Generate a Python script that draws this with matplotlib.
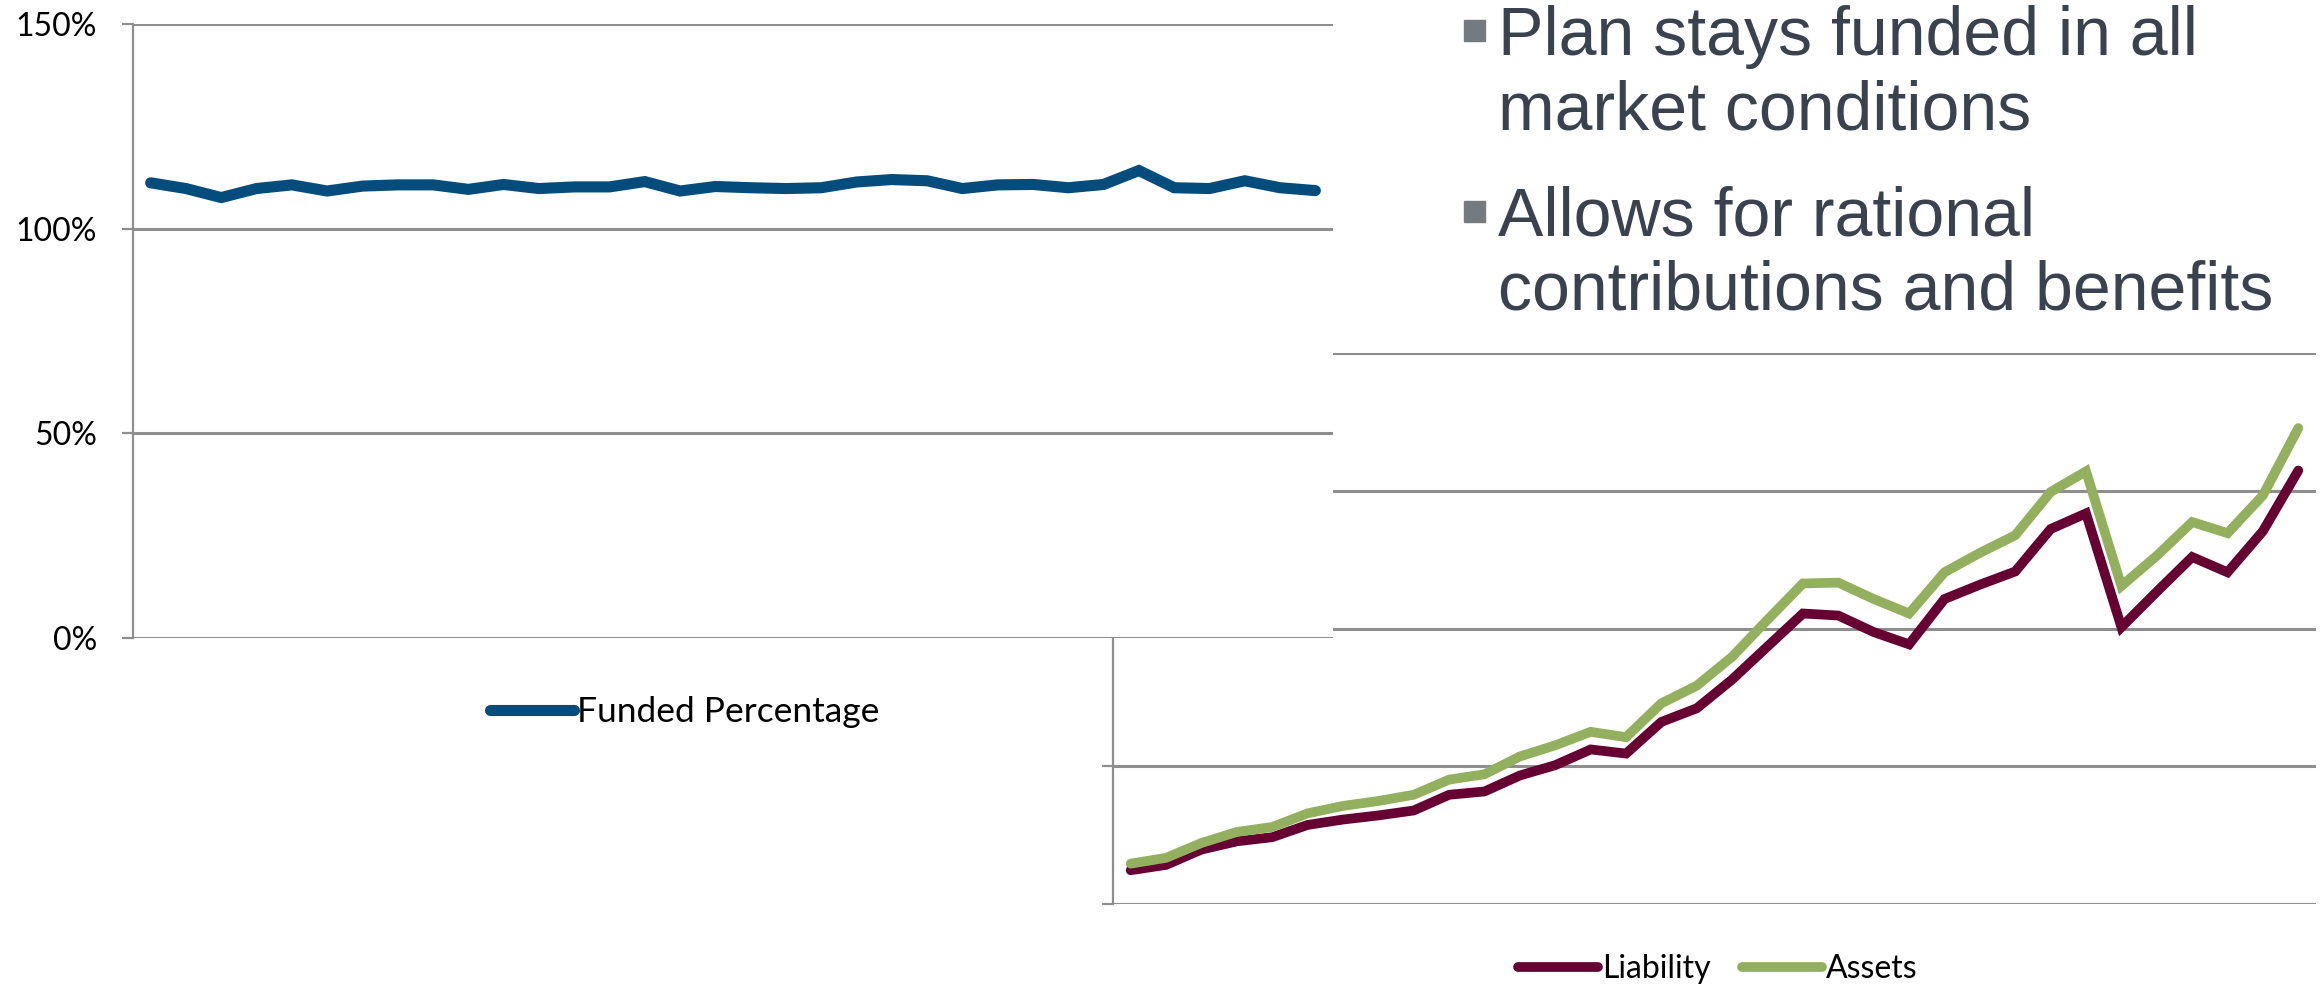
import matplotlib
matplotlib.use("Agg")
import matplotlib.pyplot as plt
from matplotlib.ticker import FuncFormatter

# Funded ratio by scenario (percent)
funded_pct = [111.2, 109.8, 107.6, 109.8, 110.7, 109.2, 110.4, 110.7, 110.7, 109.6,
              110.8, 109.8, 110.2, 110.2, 111.5, 109.2, 110.3, 110.0, 109.8, 110.0,
              111.4, 112.0, 111.7, 109.8, 110.7, 110.8, 110.0, 110.8, 114.2, 110.0,
              109.8, 111.7, 110.0, 109.3]

# Liability and asset paths (index units)
liability = [24.5, 28.4, 39.5, 45.5, 48.5, 57.4, 61.3, 64.3, 67.9, 79.3,
             81.7, 93.3, 100.8, 112.2, 109.2, 132.2, 142.1, 163.0, 187.0, 210.9,
             209.4, 197.4, 188.5, 221.4, 231.8, 241.4, 272.2, 283.6, 201.0, 226.7,
             251.9, 240.8, 270.7, 314.7]
assets = [29.3, 33.5, 44.3, 52.3, 55.9, 65.8, 71.2, 74.8, 79.3, 90.3,
          94.2, 107.1, 115.2, 125.0, 121.1, 145.7, 158.5, 179.5, 206.4, 232.7,
          233.3, 221.4, 210.9, 240.8, 254.9, 267.7, 299.1, 314.1, 230.9, 252.8,
          277.3, 269.2, 296.7, 345.5]

pct_ticks = [0, 50, 100, 150]
bullets = [["Plan stays funded in all", "market conditions"],
           ["Allows for rational", "contributions and benefits"]]

W, H = 2323, 986
GRID = "#8e8e8e"
BLUE = "#034c7c"
MAROON = "#660033"
GREEN = "#93b05e"
label_font = "Lato"

fig = plt.figure(figsize=(W / 100, H / 100), dpi=100)


def box(x0, x1, ytop, ybot):
    return [x0 / W, 1 - ybot / H, (x1 - x0) / W, (ybot - ytop) / H]


def style_axes(ax):
    for s in ["top", "right", "bottom"]:
        ax.spines[s].set_visible(False)
    ax.spines["left"].set_color(GRID)
    ax.spines["left"].set_linewidth(1.6)
    ax.grid(axis="y", color=GRID, linewidth=2.2)
    ax.set_axisbelow(True)
    ax.tick_params(axis="y", direction="out", length=8, width=1.6, color=GRID)
    ax.tick_params(axis="x", length=0, labelbottom=False)


# Liability / assets chart (sits underneath)
ax2 = fig.add_axes(box(1113, 2316, 353, 904))
x = range(len(liability))
ax2.plot(x, liability, color=MAROON, linewidth=7.0, solid_capstyle="round",
         solid_joinstyle="miter", label="Liability", zorder=3)
ax2.plot(x, assets, color=GREEN, linewidth=7.0, solid_capstyle="round",
         solid_joinstyle="miter", label="Assets", zorder=3)
ax2.set_xlim(-0.5, len(liability) - 0.5)
ax2.set_ylim(0, 400)
ax2.set_yticks([0, 100, 200, 300, 400])
ax2.set_yticklabels([])
style_axes(ax2)
ax2.legend(loc="center", bbox_to_anchor=(1718 / W, 1 - 969 / H),
           bbox_transform=fig.transFigure, ncol=2, frameon=False,
           prop={"family": label_font, "size": 23}, handlelength=2.5,
           handletextpad=0.12, columnspacing=1.0)

# Funded percentage chart (white plot area drawn on top)
ax1 = fig.add_axes(box(133, 1333, 24, 638))
ax1.set_facecolor("white")
ax1.plot(range(len(funded_pct)), funded_pct, color=BLUE, linewidth=8.0,
         solid_capstyle="round", solid_joinstyle="miter",
         label="Funded Percentage")
ax1.set_xlim(-0.5, len(funded_pct) - 0.5)
ax1.set_ylim(0, 150)
ax1.set_yticks(pct_ticks)
ax1.yaxis.set_major_formatter(FuncFormatter(lambda v, p: f"{v:.0f}%"))
style_axes(ax1)
ax1.tick_params(axis="y", pad=18, labelsize=23)
for lab in ax1.get_yticklabels():
    lab.set_family(label_font)
ax1.legend(loc="center", bbox_to_anchor=(685 / W, 1 - 712 / H),
           bbox_transform=fig.transFigure, frameon=False,
           prop={"family": label_font, "size": 25.5}, handlelength=2.35,
           handletextpad=0.1)

# Bullet points
TEXT = "#39424e"
for lines, ysq, base in zip(bullets, [20, 201], [55, 236]):
    fig.patches.append(plt.Rectangle((1464 / W, 1 - (ysq + 21) / H), 21 / W, 21 / H,
                                     transform=fig.transFigure, color="#737b7e"))
    for j, line in enumerate(lines):
        fig.text(1498 / W, 1 - (base + j * 74) / H, line, family="Liberation Sans",
                 fontsize=49, color=TEXT, ha="left", va="baseline")

fig.savefig("out.png", dpi=100, facecolor="white")
